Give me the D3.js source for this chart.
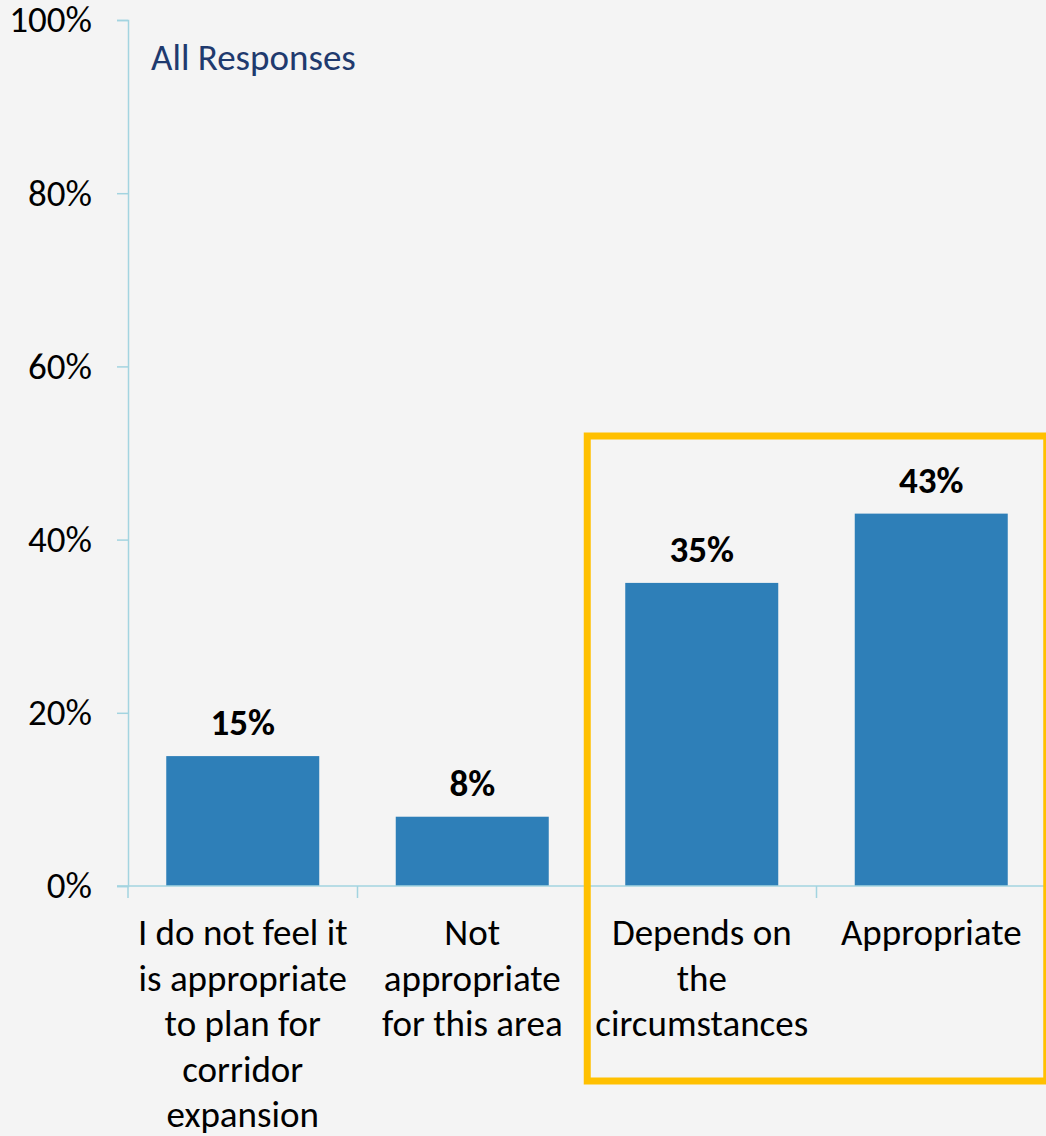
<!DOCTYPE html>
<html>
<head>
<meta charset="utf-8">
<script src="https://cdn.jsdelivr.net/npm/d3@7"></script>
<style>
  html, body { margin: 0; padding: 0; background: #f4f4f4; }
  svg { display: block; }
  text { font-family: Carlito, Calibri, "Open Sans", sans-serif; }
</style>
</head>
<body>
<svg id="chart" width="1046" height="1136"></svg>
<script>
// Survey responses (share of all responses)
const categories = [
  ["I do not feel it", "is appropriate", "to plan for", "corridor", "expansion"],
  ["Not", "appropriate", "for this area"],
  ["Depends on", "the", "circumstances"],
  ["Appropriate"]
];
const values = [15, 8, 35, 43];
const yTicks = [0, 20, 40, 60, 80, 100];
const highlighted = [2, 3]; // categories framed by the highlight box
const titleText = "All Responses";

(function draw() {
  const svg = d3.select("#chart");
  const W = 1046, H = 1136;
  const plotLeft = 128, plotRight = 1046, plotTop = 20, plotBottom = 886;
  const axisColor = "#a3d4e0";
  const barColor = "#2e7fb8";
  const fontFamily = 'Carlito, Calibri, "Open Sans", sans-serif';
  const fontSize = 37;

  svg.append("rect").attr("width", W).attr("height", H).attr("fill", "#f4f4f4");

  const idx = categories.map((d, i) => i);
  const x = d3.scaleBand().domain(idx).range([plotLeft, plotRight])
    .paddingInner(1 / 3).paddingOuter(1 / 6);
  const y = d3.scaleLinear().domain([0, 100]).range([plotBottom, plotTop]);

  // bars
  svg.append("g").selectAll("rect").data(values).join("rect")
    .attr("x", (d, i) => x(i))
    .attr("y", d => y(d))
    .attr("width", x.bandwidth())
    .attr("height", d => y(0) - y(d))
    .attr("fill", barColor);

  // value labels
  svg.append("g").selectAll("text").data(values).join("text")
    .attr("x", (d, i) => x(i) + x.bandwidth() / 2)
    .attr("y", d => y(d) - 21)
    .attr("text-anchor", "middle")
    .attr("font-weight", "bold")
    .attr("font-size", fontSize)
    .attr("fill", "#000")
    .text(d => d + "%");

  // y axis
  const yAxis = svg.append("g").attr("transform", `translate(${plotLeft},0)`)
    .call(d3.axisLeft(y).tickValues(yTicks).tickFormat(d => d + "%").tickSize(11).tickPadding(25));
  yAxis.select(".domain").attr("stroke", axisColor).attr("stroke-width", 1.5);
  yAxis.selectAll(".tick line").attr("stroke", axisColor).attr("stroke-width", 1.5);
  yAxis.selectAll(".tick text")
    .attr("font-size", fontSize).attr("fill", "#000")
    .attr("font-family", fontFamily)
    .attr("dy", "0.32em");

  // x axis (baseline with ticks at category boundaries)
  const xg = svg.append("g").attr("transform", `translate(0,${plotBottom})`);
  xg.append("line").attr("x1", plotLeft - 11).attr("x2", plotRight)
    .attr("stroke", axisColor).attr("stroke-width", 1.5);
  const step = x.step();
  const boundaries = d3.range(categories.length + 1).map(i => plotLeft + i * step);
  xg.selectAll(".xtick").data(boundaries).join("line")
    .attr("class", "xtick")
    .attr("x1", d => d).attr("x2", d => d)
    .attr("y1", 0).attr("y2", 12)
    .attr("stroke", axisColor).attr("stroke-width", 1.5);

  // category labels, wrapped over several lines
  const lineH = 45.5;
  const catG = svg.append("g");
  categories.forEach((lines, i) => {
    const t = catG.append("text")
      .attr("text-anchor", "middle")
      .attr("font-size", fontSize)
      .attr("fill", "#000");
    lines.forEach((ln, j) => {
      t.append("tspan")
        .attr("x", x(i) + x.bandwidth() / 2)
        .attr("y", plotBottom + 59 + j * lineH)
        .text(ln);
    });
  });

  // title
  svg.append("text")
    .attr("x", 151).attr("y", 70)
    .attr("font-size", fontSize)
    .attr("fill", "#1f3a6e")
    .text(titleText);

  // highlight frame around the favourable responses
  const hx0 = x(highlighted[0]) - 38;
  const hx1 = x(highlighted[highlighted.length - 1]) + x.bandwidth() + 39;
  svg.append("rect")
    .attr("x", hx0).attr("y", 436)
    .attr("width", hx1 - hx0).attr("height", 1081 - 436)
    .attr("fill", "none")
    .attr("stroke", "#ffc000")
    .attr("stroke-width", 7);
})();
</script>
</body>
</html>
